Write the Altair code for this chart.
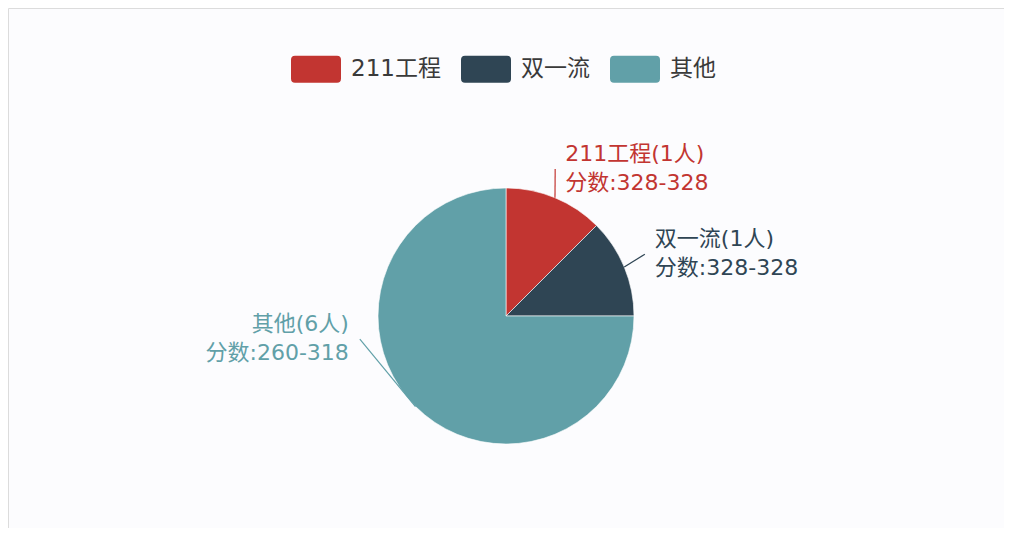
import altair as alt
import pandas as pd

# ---- data ----
categories = ["211工程", "双一流", "其他"]
counts = [1, 1, 6]
score_ranges = ["328-328", "328-328", "260-318"]
colors = ["#c23531", "#2f4554", "#61a0a8"]

# ---- layout (label anchors in polar form, degrees clockwise from 12 o'clock) ----
label_angle = [18.5, 66, 261]
label_radius = [155, 152, 148]
label_side = ["right", "right", "left"]

W, H = 996, 520
CX, CY = 498, 308
R = 128
FONT = "DejaVu Sans, Noto Sans CJK SC"

df = pd.DataFrame({
    "cat": categories,
    "count": counts,
    "score": score_ranges,
    "order": list(range(len(categories))),
    "la": label_angle,
    "lr": label_radius,
    "side": label_side,
})

xs = alt.Scale(domain=[-CX, W - CX], range=[0, W])
ys = alt.Scale(domain=[-(H - CY), CY], range=[H, 0])
cs = alt.Scale(domain=categories, range=colors)

base = alt.Chart(df)

pie = base.mark_arc(outerRadius=R, stroke="#ffffff", strokeWidth=0.6).encode(
    theta=alt.Theta("count:Q", stack=True),
    order=alt.Order("order:Q"),
    x=alt.X(datum=0, type="quantitative", scale=xs, axis=None),
    y=alt.Y(datum=0, type="quantitative", scale=ys, axis=None),
    color=alt.Color(
        "cat:N",
        scale=cs,
        sort=categories,
        legend=alt.Legend(
            title=None,
            orient="none",
            direction="horizontal",
            legendX=283,
            legendY=36,
            symbolType="M-0.84,-0.54L0.84,-0.54Q1,-0.54 1,-0.38L1,0.38Q1,0.54 0.84,0.54L-0.84,0.54Q-1,0.54 -1,0.38L-1,-0.38Q-1,-0.54 -0.84,-0.54Z",
            symbolSize=2500,
            symbolStrokeWidth=0,
            symbolOpacity=1,
            labelFont=FONT,
            labelFontSize=23,
            labelColor="#3a3a3a",
            labelOffset=10,
            columnPadding=20,
            labelLimit=200,
        ),
    ),
)

geo = base.transform_joinaggregate(total="sum(count)").transform_window(
    cum="sum(count)", sort=[alt.SortField("order")]
).transform_calculate(
    mid="(datum.cum - datum.count / 2) / datum.total * 2 * PI",
    sx=f"{R} * sin(datum.mid)",
    sy=f"{R} * cos(datum.mid)",
    ex="datum.lr * sin(datum.la * PI / 180)",
    ey="datum.lr * cos(datum.la * PI / 180)",
    label="[datum.cat + '(' + datum.count + '人)', '分数:' + datum.score]",
)

lines = geo.mark_rule(strokeWidth=1.2).encode(
    x=alt.X("sx:Q", scale=xs, axis=None),
    y=alt.Y("sy:Q", scale=ys, axis=None),
    x2="ex:Q",
    y2="ey:Q",
    color=alt.Color("cat:N", scale=cs, legend=None),
)

text_r = geo.transform_filter("datum.side == 'right'").mark_text(
    align="left", baseline="middle", dx=10, dy=-15, font=FONT, fontSize=22, lineHeight=29
).encode(
    x=alt.X("ex:Q", scale=xs, axis=None),
    y=alt.Y("ey:Q", scale=ys, axis=None),
    text=alt.Text("label:N"),
    color=alt.Color("cat:N", scale=cs, legend=None),
)

text_l = geo.transform_filter("datum.side == 'left'").mark_text(
    align="right", baseline="middle", dx=-11, dy=-15, font=FONT, fontSize=22, lineHeight=29
).encode(
    x=alt.X("ex:Q", scale=xs, axis=None),
    y=alt.Y("ey:Q", scale=ys, axis=None),
    text=alt.Text("label:N"),
    color=alt.Color("cat:N", scale=cs, legend=None),
)

chart = alt.layer(pie, lines, text_r, text_l).properties(
    width=W, height=H, padding=0, background="#ffffff"
).configure_view(
    stroke="#dcdcdc", strokeWidth=1, fill="#fcfcfe"
)

chart.save("out.html", embed_options={"renderer": "svg", "actions": False})
